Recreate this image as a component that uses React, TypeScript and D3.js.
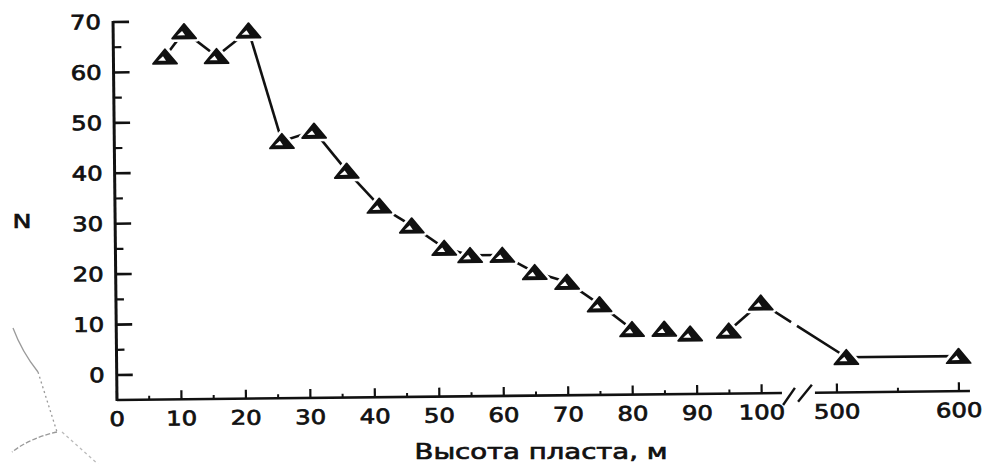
import React from 'react';
import * as d3 from 'd3';

// высота пласта (м) и N, ближний участок оси
const heights = [8, 11, 16, 21, 26, 31, 36, 41, 46, 51, 55, 60, 65, 70, 75, 80, 85, 89, 95, 100];
const counts = [63, 68, 63, 68, 46, 48, 40, 33, 29, 24.5, 23, 23, 19.5, 17.5, 13, 8, 8, 7, 7.5, 13];
// дальний участок после разрыва оси
const farHeights = [508, 600];
const farCounts = [2, 2];

const yTicks = [0, 10, 20, 30, 40, 50, 60, 70];
const xTicksNear = [0, 10, 20, 30, 40, 50, 60, 70, 80, 90, 100];
const xTicksFar = [500, 600];
// points with no line to the next one
const unlinkedAfter = [15, 16, 17];

const font = '"DejaVu Sans", sans-serif';

const App: React.FC = () => {
  const baseY = 400;
  const x0 = 117;
  const xNear = d3.scaleLinear().domain([0, 100]).range([x0, 761.7]);
  const xFar = d3.scaleLinear().domain([500, 600]).range([837, 959]);
  const xPos = (h: number) => (h <= 100 ? xNear(h) : xFar(h));
  const y = d3.scaleLinear().domain([0, 70]).range([375, 22]);

  const pts: [number, number][] = [
    ...heights.map((h, i) => [xPos(h), y(counts[i])] as [number, number]),
    ...farHeights.map((h, i) => [xPos(h), y(farCounts[i])] as [number, number]),
  ];
  const line = d3.line();
  const breakIdx = heights.length - 1; // segment across the axis break

  const tri = 'M0,-7.5L12,7L-12,7Z';
  const inner = 'M-2,-0.5L1,4L-7,4Z';

  const yMinor = d3.range(5, 70, 10);
  const xMinorNear = d3.range(5, 100, 10);
  const xMinorFar = [550];

  const txt = { fontFamily: font, fill: '#111', stroke: '#111', strokeWidth: 0.7 };

  return (
    <svg width={985} height={464} style={{ position: 'absolute', left: 0, top: 0, background: '#fff' }}>
      {/* scan artefact, lower left */}
      <g fill="none" stroke="#9a9a9a" strokeWidth={1.3}>
        <path d="M13,328 Q22,352 38,372" />
        <path d="M38,372 L57,432" strokeDasharray="2 3" />
        <path d="M57,432 Q30,438 12,452" strokeDasharray="5 2" />
        <path d="M62,432 L98,464" strokeDasharray="3 3" stroke="#bbb" />
      </g>

      <g transform={`rotate(-0.6 ${x0} ${baseY})`} fill="#111">
        {/* y axis */}
        <line x1={x0} x2={x0} y1={y(70) - 1} y2={baseY + 1} stroke="#111" strokeWidth={3} />
        {yTicks.map(t => (
          <g key={'y' + t}>
            <line x1={x0} x2={x0 + 16} y1={y(t)} y2={y(t)} stroke="#111" strokeWidth={2.6} />
            <text x={105} y={y(t) + 7} textAnchor="end" fontSize={20} {...txt}
              textLength={String(t).length * 15.5} lengthAdjust="spacingAndGlyphs">{t}</text>
          </g>
        ))}
        {yMinor.map(t => (
          <line key={'ym' + t} x1={x0} x2={x0 + 8} y1={y(t)} y2={y(t)} stroke="#111" strokeWidth={2.2} />
        ))}

        {/* x axis, broken */}
        <line x1={x0} x2={782} y1={baseY} y2={baseY} stroke="#111" strokeWidth={2.6} />
        <line x1={815} x2={970} y1={baseY} y2={baseY} stroke="#111" strokeWidth={2.6} />
        <line x1={783} x2={795} y1={baseY + 12} y2={baseY - 5} stroke="#111" strokeWidth={2.4} />
        <line x1={798} x2={812} y1={baseY + 9} y2={baseY - 8} stroke="#111" strokeWidth={2.4} />
        {[...xTicksNear.map(t => xNear(t)), ...xTicksFar.map(t => xFar(t))].map((px, i) => (
          <line key={'xt' + i} x1={px} x2={px} y1={baseY} y2={baseY - 9} stroke="#111" strokeWidth={2.2} />
        ))}
        {[...xMinorNear.map(t => xNear(t)), ...xMinorFar.map(t => xFar(t))].map((px, i) => (
          <line key={'xm' + i} x1={px} x2={px} y1={baseY} y2={baseY - 4} stroke="#111" strokeWidth={2} />
        ))}
        {[...xTicksNear.map(t => [t, xNear(t)]), ...xTicksFar.map(t => [t, xFar(t)])].map(([t, px]) => (
          <text key={'xl' + t} x={px} y={baseY + 26} textAnchor="middle" fontSize={20} {...txt}
            textLength={String(t).length * 15.5} lengthAdjust="spacingAndGlyphs">{t}</text>
        ))}

        {/* data line */}
        {pts.slice(0, -1).map((p, i) => {
          if (unlinkedAfter.includes(i)) return null;
          return (
            <path key={'s' + i} d={line([p, pts[i + 1]]) || ''} fill="none" stroke="#111" strokeWidth={2.6}
              strokeDasharray={i === breakIdx ? '36 7 300' : undefined} />
          );
        })}
        {pts.map((p, i) => (
          <g key={'m' + i} transform={`translate(${p[0]},${p[1]})`}>
            <path d={tri} fill="#fff" stroke="#fff" strokeWidth={7} strokeLinejoin="round" />
            <path d={tri} fill="#111" stroke="#111" strokeWidth={1.8} strokeLinejoin="round" />
            <path d={inner} fill="#fff" />
          </g>
        ))}
      </g>

      <text x={22} y={228} textAnchor="middle" fontSize={20} {...txt}
        textLength={19} lengthAdjust="spacingAndGlyphs">N</text>
      <text x={541} y={459} textAnchor="middle" fontSize={21} {...txt}
        textLength={253} lengthAdjust="spacingAndGlyphs">Высота пласта, м</text>
    </svg>
  );
};

export default App;
